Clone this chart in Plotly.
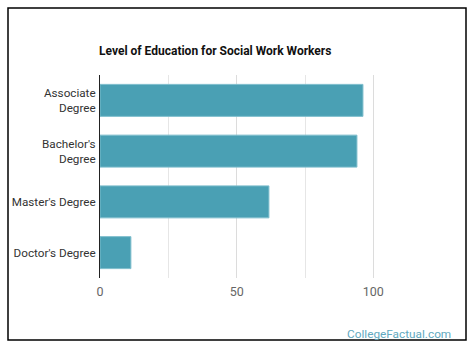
import plotly.graph_objects as go

categories = ["Associate<br>Degree", "Bachelor's<br>Degree", "Master's Degree", "Doctor's Degree"]
values = [96.2, 94.0, 61.8, 11.3]
x_tickvals = [0, 50, 100]
x_ticktext = ["0", "50", "100"]
title_text = "Level of Education for Social Work Workers"
watermark = "CollegeFactual.com"

W, H = 476, 357
L, R, T, B = 100, 48, 75, 79
pw, ph = W - L - R, H - T - B

def px_x(p):
    return (p - L) / pw

def px_y(p):
    return (H - B - p) / ph

fig = go.Figure(go.Bar(
    x=values, y=categories, orientation="h",
    marker=dict(color="#4aa0b4", line=dict(color="#7dbdcc", width=1)),
    hoverinfo="skip",
))

fig.update_layout(
    width=W, height=H,
    margin=dict(l=L, r=R, t=T, b=B, autoexpand=False),
    paper_bgcolor="white", plot_bgcolor="white",
    font=dict(family="Roboto", size=12, color="#444"),
    bargap=0.37,
    showlegend=False,
    xaxis=dict(
        range=[0, 120], tickvals=x_tickvals, ticktext=x_ticktext,
        showgrid=True, gridcolor="#dcdcdc", gridwidth=1,
        minor=dict(dtick=25, tick0=0, showgrid=True, gridcolor="#e6e6e6"),
        zeroline=False, showline=False, ticks="", automargin=False,
        ticklabelstandoff=4,
        tickfont=dict(size=12.5, color="#666"),
    ),
    yaxis=dict(
        autorange="reversed", showline=True, linecolor="#222", linewidth=1,
        ticks="", automargin=False, ticklabelstandoff=1,
        showgrid=False, tickfont=dict(size=11.7, color="#333"),
    ),
    shapes=[dict(
        type="rect", xref="paper", yref="paper",
        x0=px_x(8), x1=px_x(466), y0=px_y(340), y1=px_y(8),
        line=dict(color="black", width=1.5), fillcolor="rgba(0,0,0,0)", layer="below",
    )],
    annotations=[
        dict(text="<b>" + title_text + "</b>", xref="paper", yref="paper",
             x=px_x(215), y=px_y(51), xanchor="center", yanchor="middle",
             showarrow=False, font=dict(family="Roboto", size=12, color="#111")),
        dict(text=watermark, xref="paper", yref="paper",
             x=px_x(453), y=px_y(334), xanchor="right", yanchor="middle",
             showarrow=False, font=dict(family="Roboto", size=11.8, color="#62a9c0")),
    ],
)

fig.write_html(
    "out.html",
    config={"displayModeBar": False},
    post_script="document.body.style.margin='0';document.body.style.overflow='hidden';",
)
